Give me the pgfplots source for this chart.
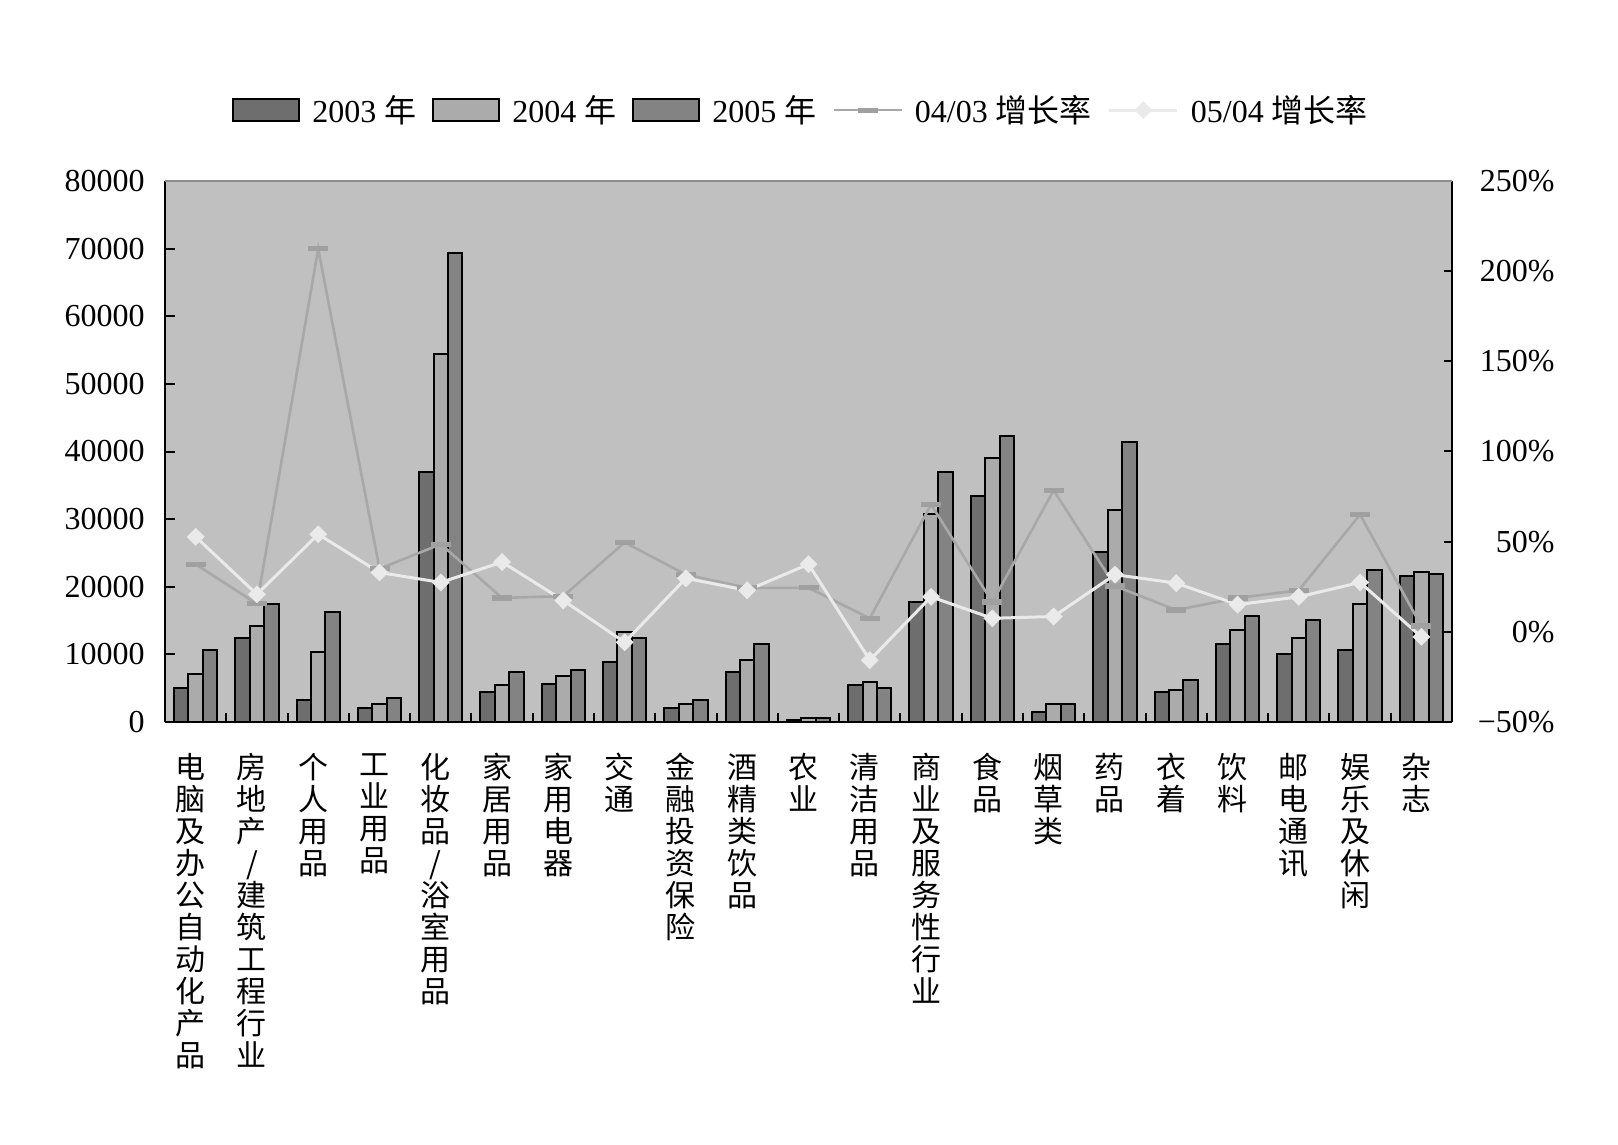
\documentclass[border=0pt]{standalone}
\usepackage{fontspec}
\setmainfont{Liberation Serif}
\newfontfamily\cjk{Noto Sans CJK SC}
\usepackage{pgfplots}
\pgfplotsset{compat=1.18}
\usepackage{pgfplotstable}

\definecolor{bg}{HTML}{C0C0C0}
\definecolor{c03}{HTML}{6E6E6E}
\definecolor{c04}{HTML}{ABABAB}
\definecolor{c05}{HTML}{838383}
\definecolor{ga}{HTML}{A8A8A8}
\definecolor{gam}{HTML}{A0A0A0}
\definecolor{gb}{HTML}{EAEAEA}
\definecolor{topl}{HTML}{8C8C8C}

\pgfplotsset{
  barleg/.style={legend image code/.code={\draw[##1] (0pt,-5.5pt) rectangle (33pt,5.5pt);}},
  lineleg/.style={legend image code/.code={\draw[mark repeat=2,mark phase=2,##1] plot coordinates {(0pt,0pt)(17pt,0pt)(34pt,0pt)};}},
}

\pgfplotstableread{
x v03 v04 v05 ga gb
0 5030 7140 10580 37.5 52.7
1 12430 14180 17460 15.5 20.8
2 3280 10320 16240 212.4 54.1
3 2120 2700 3540 35.0 32.9
4 36930 54390 69420 48.6 27.4
5 4390 5400 7410 18.8 38.7
6 5660 6830 7720 19.8 17.4
7 8890 13280 12430 49.6 -5.8
8 2120 2700 3280 31.7 29.7
9 7410 9150 11530 24.4 23.0
10 320 630 630 24.4 37.5
11 5400 5930 5080 7.5 -15.7
12 17780 30690 36930 70.6 19.4
13 33440 39050 42330 16.5 7.5
14 1480 2700 2700 78.5 8.5
15 25130 31380 41380 25.4 31.7
16 4390 4760 6240 12.1 27.0
17 11530 13540 15660 18.8 15.1
18 10050 12430 15080 23.0 19.4
19 10690 17460 22490 65.0 27.4
20 21590 22170 21900 3.2 -2.8
}\data

\begin{document}
\begin{tikzpicture}
\begin{axis}[
  at={(0,0)}, anchor=south west,
  scale only axis, width=643.5pt, height=270.5pt,
  xmin=-0.5, xmax=20.5, ymin=0, ymax=80000,
  axis x line*=bottom, axis y line*=left,
  axis line style={black, line width=1pt},
  axis background/.style={fill=bg},
  ybar=0pt, bar width=7.2pt,
  xtick={0,...,20},
  xticklabels={
    {电\\脑\\及\\办\\公\\自\\动\\化\\产\\品},
    {房\\地\\产\\/\\建\\筑\\工\\程\\行\\业},
    {个\\人\\用\\品},
    {工\\业\\用\\品},
    {化\\妆\\品\\/\\浴\\室\\用\\品},
    {家\\居\\用\\品},
    {家\\用\\电\\器},
    {交\\通},
    {金\\融\\投\\资\\保\\险},
    {酒\\精\\类\\饮\\品},
    {农\\业},
    {清\\洁\\用\\品},
    {商\\业\\及\\服\\务\\性\\行\\业},
    {食\\品},
    {烟\\草\\类},
    {药\\品},
    {衣\\着},
    {饮\\料},
    {邮\\电\\通\\讯},
    {娱\\乐\\及\\休\\闲},
    {杂\\志}},
  major x tick style={draw=none},
  minor xtick={0.5,1.5,...,19.5},
  minor tick length=4.3pt,
  major tick length=5pt,
  tick align=inside,
  tick style={black, line width=1pt},
  scaled y ticks=false,
  ytick={0,10000,...,80000},
  yticklabels={0,10000,20000,30000,40000,50000,60000,70000,80000},
  yticklabel style={font=\fontsize{16}{18}\selectfont, inner sep=0pt, xshift=-10pt},
  xticklabel style={font=\cjk\fontsize{15}{16}\selectfont, align=center, anchor=north, inner sep=0pt, yshift=-15.5pt, xshift=-2.5pt},
]
\addplot[fill=c03, draw=black, line width=1pt] table[x=x,y=v03]{\data};
\addplot[fill=c04, draw=black, line width=1pt] table[x=x,y=v04]{\data};
\addplot[fill=c05, draw=black, line width=1pt] table[x=x,y=v05]{\data};
\end{axis}
\begin{axis}[
  at={(0,0)}, anchor=south west,
  scale only axis, width=643.5pt, height=270.5pt,
  xmin=-0.5, xmax=20.5, ymin=-50, ymax=250,
  axis x line=none, axis y line*=right,
  axis line style={black, line width=1pt},
  ytick={-50,0,...,250},
  yticklabels={−50\%,0\%,50\%,100\%,150\%,200\%,250\%},
  yticklabel style={font=\fontsize{16}{18}\selectfont, anchor=east, inner sep=0pt, xshift=51.5pt},
  tick align=inside, major tick length=4pt, tick style={black, line width=1pt},
  legend style={at={(0.495,1.131)}, anchor=center, draw=none, fill=none,
    font=\fontsize{16}{18}\selectfont,
    /tikz/every odd column/.append style={column sep=4pt},
    /tikz/every even column/.append style={column sep=6pt}},
  legend columns=5,
]
\addlegendimage{barleg, fill=c03, draw=black, line width=1pt}
\addlegendimage{barleg, fill=c04, draw=black, line width=1pt}
\addlegendimage{barleg, fill=c05, draw=black, line width=1pt}
\addplot[ga, line width=1.3pt, mark=-, mark size=5pt, mark options={gam, line width=2.6pt}, lineleg] table[x=x,y=ga]{\data};
\addplot[gb, line width=1.5pt, mark=square*, mark size=3pt, mark options={rotate=45, fill=gb, draw=gb, line width=0.3pt}, lineleg] table[x=x,y=gb]{\data};
\legend{2003 {\cjk 年},2004 {\cjk 年},2005 {\cjk 年},04/03 {\cjk 增长率},05/04 {\cjk 增长率}}
\draw[topl, line width=1pt] (rel axis cs:0,1) -- (rel axis cs:1,1);
\end{axis}
\pgfresetboundingbox
\path (-82.5pt,-211.5pt) rectangle (726.5pt,361pt);
\end{tikzpicture}
\end{document}
